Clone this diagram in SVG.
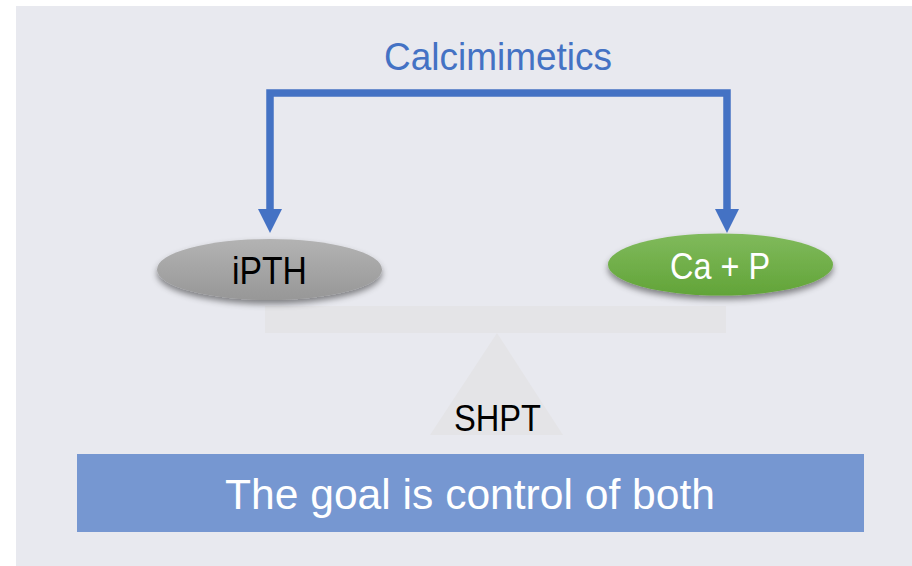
<svg xmlns="http://www.w3.org/2000/svg" width="912" height="566" viewBox="0 0 912 566">
  <style>
    .t { font-family: "Liberation Sans", Arial, sans-serif; text-anchor: middle; }
    .conn { fill: none; stroke: #4472C4; stroke-width: 7.5; stroke-linejoin: miter; }
  </style>
  <defs>
    <linearGradient id="gGray" x1="0" y1="0" x2="0" y2="1">
      <stop offset="0" stop-color="#B3B3B3"/>
      <stop offset="1" stop-color="#979797"/>
    </linearGradient>
    <linearGradient id="gGreen" x1="0" y1="0" x2="0" y2="1">
      <stop offset="0" stop-color="#80BA5C"/>
      <stop offset="1" stop-color="#62A438"/>
    </linearGradient>
    <filter id="shadow" x="-20%" y="-30%" width="140%" height="170%">
      <feDropShadow dx="0" dy="4" stdDeviation="3" flood-color="#000" flood-opacity="0.45"/>
    </filter>
    <marker id="arrow" viewBox="0 0 24 24" markerUnits="userSpaceOnUse" markerWidth="24" markerHeight="24" refX="2" refY="12" orient="auto-start-reverse">
      <path d="M0,0 L24,12 L0,24 z" fill="#4472C4"/>
    </marker>
  </defs>

  <rect x="0" y="0" width="912" height="566" fill="#FFFFFF"/>
  <rect x="16" y="6" width="896" height="560" fill="#E8E9EF"/>

  <g id="seesaw">
    <rect x="265" y="306" width="461" height="27" fill="#E4E4E7"/>
    <polygon points="497,333 430,435 563,435" fill="#E4E4E7"/>
  </g>

  <g id="connectors">
    <path class="conn" d="M270,211 V93 H727 V211" marker-start="url(#arrow)" marker-end="url(#arrow)"/>
  </g>

  <g id="label-calcimimetics">
    <text class="t" x="498" y="70" font-size="38" textLength="228" lengthAdjust="spacingAndGlyphs" fill="#4472C4">Calcimimetics</text>
  </g>

  <g id="node-ipth">
    <ellipse cx="269.5" cy="269.5" rx="112.5" ry="30.5" fill="url(#gGray)" filter="url(#shadow)"/>
    <text class="t" x="269.5" y="284" font-size="38" textLength="75" lengthAdjust="spacingAndGlyphs" fill="#000000">iPTH</text>
  </g>

  <g id="node-cap">
    <ellipse cx="720.5" cy="264.5" rx="112.5" ry="31" fill="url(#gGreen)" filter="url(#shadow)"/>
    <text class="t" x="720" y="279" font-size="36" textLength="100" lengthAdjust="spacingAndGlyphs" fill="#FFFFFF">Ca + P</text>
  </g>

  <g id="node-shpt">
    <text class="t" x="497.5" y="431" font-size="37" textLength="87" lengthAdjust="spacingAndGlyphs" fill="#000000">SHPT</text>
  </g>

  <g id="node-goal">
    <rect x="77" y="454" width="787" height="78" fill="#7697D1"/>
    <text class="t" x="470" y="509" font-size="43" textLength="490" lengthAdjust="spacingAndGlyphs" fill="#FFFFFF">The goal is control of both</text>
  </g>
</svg>
